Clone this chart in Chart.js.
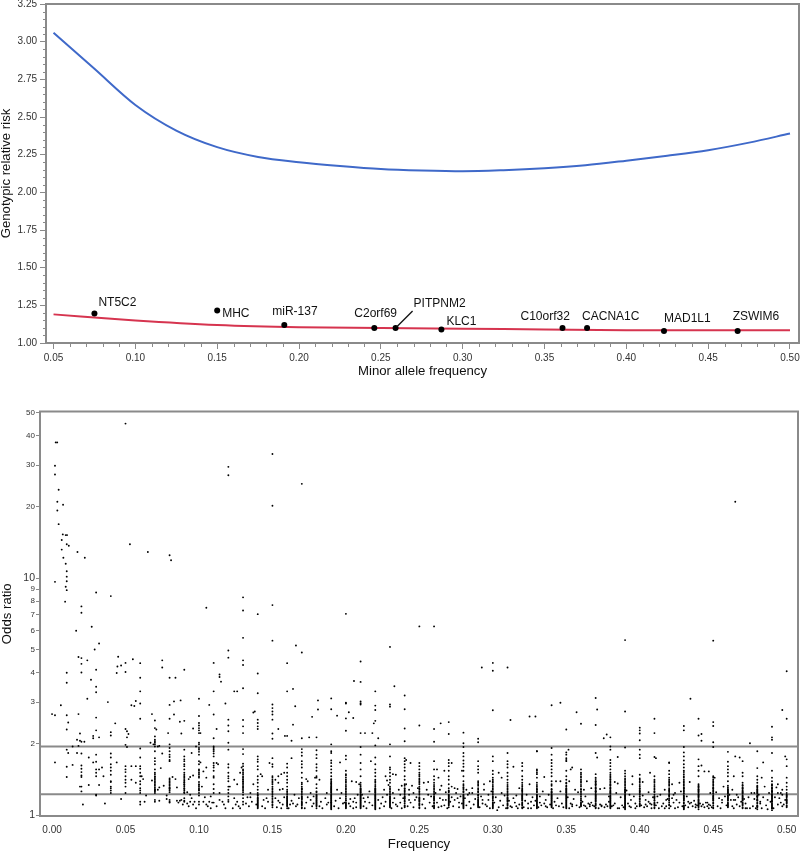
<!DOCTYPE html>
<html>
<head>
<meta charset="utf-8">
<title>Genotypic relative risk and odds ratio</title>
<script src="https://cdn.jsdelivr.net/npm/chart.js@4"></script>
<style>
  body { margin: 0; background: #fff; }
  canvas { position: absolute; left: 0; }
  #riskChart { top: 0; }
  #oddsChart { top: 400px; }
</style>
</head>
<body>
<canvas id="riskChart" width="800" height="385"></canvas>
<canvas id="oddsChart" width="800" height="451"></canvas>
<script>
// --- top panel data ---
const blueFreq = [0.05, 0.075, 0.10, 0.125, 0.15, 0.175, 0.20, 0.225, 0.25, 0.275, 0.30, 0.325, 0.35, 0.375, 0.40, 0.425, 0.45, 0.475, 0.50];
const blueRisk = [3.06, 2.82, 2.58, 2.41, 2.30, 2.235, 2.20, 2.175, 2.155, 2.145, 2.14, 2.147, 2.16, 2.18, 2.21, 2.243, 2.28, 2.33, 2.39];
const redFreq = [0.05, 0.10, 0.15, 0.20, 0.25, 0.30, 0.35, 0.40, 0.45, 0.50];
const redRisk = [1.19, 1.15, 1.12, 1.105, 1.10, 1.095, 1.09, 1.085, 1.085, 1.085];
const geneNames = ['NT5C2', 'MHC', 'miR-137', 'C2orf69', 'PITPNM2', 'KLC1', 'C10orf32', 'CACNA1C', 'MAD1L1', 'ZSWIM6'];
const geneFreq = [0.075, 0.15, 0.191, 0.246, 0.259, 0.287, 0.361, 0.376, 0.423, 0.468];
const geneRisk = [1.195, 1.215, 1.12, 1.10, 1.10, 1.09, 1.10, 1.10, 1.08, 1.08];
const riskXTicks = [0.05, 0.10, 0.15, 0.20, 0.25, 0.30, 0.35, 0.40, 0.45, 0.50];
const riskYTicks = [1.00, 1.25, 1.50, 1.75, 2.00, 2.25, 2.50, 2.75, 3.00, 3.25];

// --- bottom panel data ---
const oddsXTicks = [0, 0.05, 0.10, 0.15, 0.20, 0.25, 0.30, 0.35, 0.40, 0.45, 0.50];
const oddsYTicks = [1, 2, 3, 4, 5, 6, 7, 8, 9, 10, 20, 30, 40, 50];
const refLines = [1.95, 1.225];
const gridFreq = [0.01, 0.02, 0.03, 0.04, 0.05, 0.06, 0.07, 0.08, 0.09, 0.10, 0.11, 0.12, 0.13, 0.14, 0.15, 0.16, 0.17, 0.18, 0.19, 0.20, 0.21, 0.22, 0.23, 0.24, 0.25, 0.26, 0.27, 0.28, 0.29, 0.30, 0.31, 0.32, 0.33, 0.34, 0.35, 0.36, 0.37, 0.38, 0.39, 0.40, 0.41, 0.42, 0.43, 0.44, 0.45, 0.46, 0.47, 0.48, 0.49, 0.50];
// odds ratios of the variants sitting on each rounded frequency
const gridOdds = [
  [1.89, 1.60, 1.45],
  [1.62, 1.57, 1.52, 1.47, 1.45, 1.32, 1.26, 1.82],
  [1.80, 1.68, 1.56, 1.51, 1.46, 1.22, 1.21],
  [1.82, 1.75, 1.64, 1.59, 1.54, 1.48, 1.39, 1.38, 1.32, 1.30, 1.27, 1.24],
  [1.61, 1.56, 1.52, 1.46, 1.41, 1.37, 1.32, 1.24],
  [1.91, 1.75, 1.61, 1.57, 1.51, 1.46, 1.39, 1.35, 1.30, 1.27, 1.24, 1.14, 1.11],
  [2.15, 2.08, 2.05, 2.02, 1.99, 1.95, 1.86, 1.74, 1.69, 1.64, 1.56, 1.51, 1.46, 1.41, 1.37, 1.28, 1.26, 1.24, 1.16, 1.14],
  [1.99, 1.92, 1.86, 1.80, 1.76, 1.71, 1.69, 1.41, 1.37, 1.33, 1.30, 1.25, 1.16, 1.14, 1.13],
  [1.89, 1.77, 1.72, 1.69, 1.64, 1.61, 1.56, 1.51, 1.48, 1.44, 1.38, 1.35, 1.30, 1.24, 1.18, 1.15, 1.14],
  [2.02, 1.99, 1.92, 1.89, 1.85, 1.80, 1.69, 1.64, 1.56, 1.51, 1.46, 1.35, 1.32, 1.28, 1.24, 1.21, 1.14, 1.11],
  [1.95, 1.92, 1.89, 1.86, 1.82, 1.77, 1.66, 1.62, 1.59, 1.54, 1.46, 1.44, 1.35, 1.29, 1.24, 1.13],
  [2.02, 1.89, 1.64, 1.59, 1.51, 1.46, 1.43, 1.39, 1.32, 1.28, 1.24, 1.20, 1.16, 1.14],
  [1.90, 1.81, 1.65, 1.61, 1.56, 1.51, 1.46, 1.42, 1.39, 1.36, 1.32, 1.29, 1.25, 1.22, 1.18, 1.14, 1.11],
  [1.77, 1.72, 1.68, 1.61, 1.56, 1.46, 1.41, 1.37, 1.32, 1.28, 1.24, 1.18, 1.14, 1.11, 1.09, 1.07],
  [1.74, 1.64, 1.60, 1.46, 1.41, 1.37, 1.32, 1.28, 1.24, 1.18, 1.14, 1.13],
  [1.65, 1.59, 1.51, 1.46, 1.41, 1.37, 1.32, 1.28, 1.24, 1.20, 1.16, 1.13, 1.09],
  [1.90, 1.84, 1.78, 1.69, 1.64, 1.59, 1.51, 1.44, 1.37, 1.30, 1.28, 1.24, 1.20, 1.14, 1.11],
  [1.88, 1.80, 1.74, 1.64, 1.59, 1.54, 1.46, 1.44, 1.35, 1.30, 1.26, 1.22, 1.18, 1.14, 1.11, 1.09],
  [1.99, 1.86, 1.83, 1.70, 1.66, 1.61, 1.56, 1.51, 1.46, 1.41, 1.37, 1.32, 1.28, 1.24, 1.20, 1.16, 1.13, 1.09, 1.06],
  [1.78, 1.72, 1.54, 1.49, 1.44, 1.37, 1.32, 1.24, 1.20, 1.13, 1.09, 1.07],
  [1.94, 1.80, 1.66, 1.56, 1.46, 1.37, 1.32, 1.28, 1.24, 1.20, 1.16, 1.13, 1.09, 1.07],
  [1.75, 1.64, 1.56, 1.51, 1.46, 1.41, 1.37, 1.32, 1.28, 1.24, 1.20, 1.16, 1.13, 1.09, 1.06],
  [1.59, 1.56, 1.51, 1.46, 1.41, 1.37, 1.32, 1.28, 1.24, 1.20, 1.16, 1.13, 1.09],
  [1.74, 1.69, 1.64, 1.59, 1.54, 1.46, 1.41, 1.35, 1.30, 1.24, 1.20, 1.14, 1.10],
  [1.66, 1.61, 1.56, 1.51, 1.46, 1.41, 1.37, 1.30, 1.24, 1.18, 1.14, 1.11, 1.07],
  [1.69, 1.56, 1.46, 1.41, 1.37, 1.32, 1.28, 1.24, 1.20, 1.16, 1.13, 1.09],
  [1.71, 1.66, 1.61, 1.54, 1.46, 1.41, 1.35, 1.30, 1.26, 1.22, 1.18, 1.14, 1.11],
  [1.94, 1.83, 1.77, 1.70, 1.65, 1.60, 1.54, 1.46, 1.39, 1.35, 1.30, 1.26, 1.22, 1.18, 1.14, 1.11, 1.07],
  [1.69, 1.61, 1.56, 1.51, 1.39, 1.35, 1.30, 1.26, 1.22, 1.16, 1.13, 1.09],
  [1.77, 1.69, 1.54, 1.41, 1.37, 1.32, 1.28, 1.24, 1.20, 1.16, 1.13, 1.09, 1.07],
  [1.83, 1.69, 1.64, 1.59, 1.51, 1.46, 1.41, 1.37, 1.32, 1.28, 1.24, 1.18, 1.14, 1.11],
  [1.66, 1.61, 1.54, 1.46, 1.41, 1.37, 1.32, 1.28, 1.24, 1.20, 1.16, 1.11, 1.07],
  [1.56, 1.54, 1.51, 1.49, 1.44, 1.37, 1.32, 1.30, 1.26, 1.22, 1.18, 1.14, 1.11, 1.07],
  [1.80, 1.71, 1.66, 1.61, 1.56, 1.51, 1.46, 1.39, 1.35, 1.28, 1.24, 1.20, 1.16, 1.13, 1.09],
  [1.74, 1.69, 1.54, 1.46, 1.41, 1.37, 1.32, 1.28, 1.24, 1.20, 1.16, 1.13, 1.09],
  [1.56, 1.51, 1.46, 1.41, 1.37, 1.32, 1.28, 1.24, 1.20, 1.16, 1.13, 1.09],
  [1.49, 1.44, 1.39, 1.35, 1.30, 1.26, 1.22, 1.18, 1.14, 1.11, 1.07],
  [1.71, 1.66, 1.61, 1.56, 1.51, 1.46, 1.41, 1.35, 1.30, 1.24, 1.18, 1.14, 1.11, 1.07],
  [1.54, 1.50, 1.46, 1.41, 1.35, 1.28, 1.24, 1.20, 1.16, 1.13, 1.09, 1.06],
  [1.48, 1.41, 1.37, 1.32, 1.26, 1.20, 1.14, 1.09],
  [1.46, 1.41, 1.37, 1.32, 1.28, 1.22, 1.16, 1.11, 1.07],
  [1.66, 1.54, 1.49, 1.44, 1.39, 1.35, 1.28, 1.24, 1.18, 1.13, 1.07],
  [1.70, 1.64, 1.59, 1.54, 1.49, 1.44, 1.39, 1.35, 1.30, 1.24, 1.18, 1.13, 1.07, 1.06],
  [1.61, 1.54, 1.46, 1.35, 1.32, 1.28, 1.22, 1.16, 1.13, 1.11, 1.09, 1.06],
  [1.46, 1.44, 1.39, 1.35, 1.30, 1.24, 1.18, 1.13, 1.07],
  [1.68, 1.61, 1.56, 1.51, 1.46, 1.39, 1.28, 1.24, 1.18, 1.13, 1.09],
  [1.69, 1.51, 1.46, 1.37, 1.30, 1.24, 1.18, 1.13, 1.07],
  [1.58, 1.46, 1.41, 1.37, 1.32, 1.28, 1.24, 1.20, 1.16, 1.13, 1.09, 1.06],
  [1.54, 1.44, 1.39, 1.35, 1.30, 1.26, 1.22, 1.18, 1.14, 1.11, 1.07, 1.05],
  [1.61, 1.44, 1.37, 1.32, 1.28, 1.24, 1.20, 1.16, 1.13, 1.09]
];
const solidFreq = [0.07, 0.08, 0.09, 0.10, 0.13, 0.14, 0.15, 0.16, 0.17, 0.18, 0.19, 0.20, 0.21, 0.22, 0.23, 0.24, 0.25, 0.26, 0.27, 0.28, 0.29, 0.30, 0.31, 0.32, 0.33, 0.34, 0.35, 0.36, 0.37, 0.38, 0.39, 0.40, 0.41, 0.42, 0.43, 0.44, 0.45, 0.46, 0.47, 0.48, 0.49, 0.50];
const solidOdds = [
  [1.27, 1.29, 1.31, 1.33, 1.35, 1.39, 1.43, 1.45, 1.49],
  [1.27, 1.29, 1.31, 1.35, 1.39, 1.43],
  [1.25, 1.27, 1.29, 1.32, 1.34, 1.37, 1.40, 1.42, 1.46],
  [1.27, 1.30, 1.34, 1.38, 1.44, 1.49, 1.54],
  [1.27, 1.31, 1.34, 1.38, 1.41, 1.44, 1.49, 1.54],
  [1.08, 1.10, 1.12, 1.13, 1.15, 1.16, 1.17, 1.19, 1.21, 1.22],
  [1.08, 1.10, 1.11, 1.16, 1.20, 1.22, 1.26, 1.30, 1.35, 1.39, 1.44],
  [1.07, 1.10, 1.11, 1.12, 1.14, 1.15, 1.17, 1.18, 1.19, 1.22, 1.26],
  [1.07, 1.08, 1.10, 1.12, 1.13, 1.16, 1.17, 1.18, 1.19, 1.22, 1.26, 1.29, 1.32, 1.35],
  [1.07, 1.10, 1.12, 1.13, 1.15, 1.16, 1.17, 1.19, 1.20, 1.21, 1.25],
  [1.07, 1.08, 1.10, 1.11, 1.12, 1.14, 1.15, 1.17, 1.18, 1.19, 1.21, 1.22, 1.25, 1.26, 1.27, 1.29, 1.30, 1.31, 1.33, 1.35, 1.36, 1.39, 1.42],
  [1.08, 1.10, 1.11, 1.12, 1.15, 1.16, 1.18, 1.22, 1.26, 1.28, 1.30, 1.34, 1.39, 1.41, 1.47],
  [1.08, 1.10, 1.11, 1.12, 1.14, 1.15, 1.17, 1.18, 1.19, 1.21, 1.22, 1.25, 1.26, 1.27, 1.29, 1.30, 1.34],
  [1.07, 1.08, 1.10, 1.11, 1.12, 1.14, 1.15, 1.17, 1.18, 1.19, 1.21, 1.22, 1.25, 1.26, 1.27, 1.29, 1.30, 1.34, 1.39],
  [1.08, 1.10, 1.11, 1.12, 1.14, 1.15, 1.17, 1.18, 1.19, 1.22, 1.26, 1.30],
  [1.08, 1.09, 1.12, 1.15, 1.17, 1.18, 1.19, 1.22, 1.26, 1.27, 1.29, 1.33],
  [1.08, 1.10, 1.12, 1.15, 1.16, 1.17, 1.19, 1.22, 1.26, 1.28, 1.32, 1.35, 1.39, 1.43, 1.48],
  [1.07, 1.08, 1.10, 1.12, 1.15, 1.17, 1.18, 1.19, 1.22, 1.26, 1.30, 1.34],
  [1.08, 1.10, 1.12, 1.13, 1.15, 1.16, 1.17, 1.19, 1.20, 1.21, 1.25, 1.27],
  [1.08, 1.09, 1.10, 1.12, 1.13, 1.15, 1.16, 1.17, 1.19, 1.20, 1.21, 1.25, 1.28, 1.31, 1.33],
  [1.08, 1.10, 1.11, 1.12, 1.14, 1.15, 1.17, 1.19, 1.21, 1.25, 1.28, 1.33, 1.37],
  [1.08, 1.10, 1.11, 1.12, 1.15, 1.18, 1.19, 1.22, 1.26, 1.30, 1.34, 1.39, 1.44, 1.49],
  [1.07, 1.08, 1.10, 1.12, 1.15, 1.16, 1.17, 1.19, 1.21, 1.22, 1.26, 1.30, 1.34],
  [1.08, 1.10, 1.12, 1.13, 1.15, 1.17, 1.18, 1.19, 1.21, 1.22, 1.26, 1.27, 1.30, 1.34],
  [1.08, 1.09, 1.10, 1.12, 1.13, 1.15, 1.16, 1.17, 1.19, 1.20, 1.21, 1.25, 1.28, 1.34],
  [1.08, 1.10, 1.11, 1.12, 1.14, 1.15, 1.17, 1.18, 1.19, 1.21, 1.22, 1.25, 1.26, 1.29, 1.33],
  [1.07, 1.08, 1.10, 1.11, 1.12, 1.14, 1.15, 1.17, 1.18, 1.19, 1.21, 1.22, 1.25, 1.26, 1.27, 1.29, 1.30, 1.33, 1.36],
  [1.10, 1.11, 1.12, 1.15, 1.18, 1.22, 1.26, 1.29, 1.34, 1.39, 1.44, 1.49],
  [1.08, 1.10, 1.12, 1.15, 1.16, 1.17, 1.19, 1.20, 1.21, 1.23, 1.25, 1.26, 1.27, 1.29, 1.31, 1.33, 1.35, 1.37, 1.39, 1.42],
  [1.08, 1.09, 1.10, 1.12, 1.13, 1.15, 1.16, 1.17, 1.19, 1.20, 1.21, 1.23, 1.25, 1.26, 1.27, 1.29, 1.31, 1.33, 1.34, 1.37, 1.39, 1.42, 1.44, 1.48],
  [1.07, 1.08, 1.10, 1.11, 1.12, 1.14, 1.15, 1.17, 1.18, 1.19, 1.21, 1.22, 1.25, 1.26, 1.27, 1.29, 1.31, 1.33, 1.37, 1.39, 1.43],
  [1.10, 1.11, 1.12, 1.16, 1.17, 1.18, 1.22, 1.23, 1.25, 1.27, 1.29, 1.30, 1.34, 1.39, 1.43],
  [1.08, 1.10, 1.12, 1.13, 1.15, 1.18, 1.19, 1.20, 1.25, 1.26, 1.30, 1.34, 1.39],
  [1.10, 1.11, 1.15, 1.16, 1.20, 1.21, 1.22, 1.26, 1.27, 1.30, 1.33, 1.37, 1.41],
  [1.08, 1.09, 1.10, 1.12, 1.15, 1.16, 1.17, 1.19, 1.20, 1.21, 1.23, 1.26, 1.27, 1.29, 1.31, 1.33, 1.37, 1.41, 1.46, 1.52],
  [1.08, 1.10, 1.12, 1.14, 1.15, 1.17, 1.19, 1.20, 1.21, 1.23, 1.25, 1.26, 1.27, 1.29, 1.31, 1.33],
  [1.08, 1.10, 1.12, 1.15, 1.16, 1.17, 1.19, 1.20, 1.21, 1.23, 1.26, 1.27, 1.29, 1.31, 1.33, 1.37, 1.41],
  [1.08, 1.10, 1.11, 1.12, 1.15, 1.16, 1.17, 1.19, 1.20, 1.21, 1.23, 1.25, 1.26, 1.27, 1.29, 1.31, 1.33],
  [1.08, 1.10, 1.11, 1.12, 1.15, 1.16, 1.17, 1.19, 1.20, 1.21, 1.23, 1.25, 1.26, 1.27, 1.29, 1.31, 1.33, 1.34],
  [1.08, 1.09, 1.10, 1.12, 1.15, 1.16, 1.17, 1.19, 1.20, 1.21, 1.23, 1.25, 1.26, 1.27, 1.29, 1.31, 1.33],
  [1.07, 1.08, 1.09, 1.10, 1.12, 1.14, 1.15, 1.16, 1.17, 1.19, 1.20, 1.21, 1.23, 1.25, 1.26, 1.27, 1.29, 1.31, 1.33, 1.34],
  [1.08, 1.10, 1.12, 1.14, 1.15, 1.17, 1.19, 1.21, 1.22]
];
// everything else, [frequency, odds ratio]
const looseDots = [
  [0.0025,37.4],[0.0035,37.4],[0.002,29.8],[0.002,27.4],[0.0045,23.6],[0.0036,21.0],[0.0075,20.4],[0.0036,19.3],[0.0045,16.9],[0.0073,15.3],[0.0093,15.2],[0.0102,15.2],[0.0066,14.5],[0.01,13.9],[0.0114,13.7],[0.0066,13.2],[0.0173,12.9],[0.0223,12.2],[0.0077,12.2],[0.0093,11.5],[0.01,10.7],[0.01,10.15],[0.01,9.7],[0.002,9.65],[0.0093,9.2],[0.01,8.9],[0.03,8.7],[0.04,8.4],[0.0089,7.96],[0.02,7.6],[0.02,7.15],[0.027,6.24],[0.0164,6.0],
  [0.05,44.9],[0.053,13.9],[0.0652,12.9],[0.08,12.5],[0.081,11.9],[0.105,7.5],[0.12,29.5],[0.12,27.2],[0.13,8.3],[0.13,7.3],[0.14,7.05],[0.15,33.4],[0.17,25],[0.15,20.2],[0.15,7.7],[0.20,7.07],[0.25,6.26],[0.26,6.26],[0.465,21],
  [0.15,5.45],[0.166,5.2],[0.17,4.86],[0.16,4.38],[0.21,4.45],[0.23,5.13],[0.15,2.93],[0.15,2.83],[0.15,2.74],[0.15,2.66],[0.15,2.53],[0.16,3.33],[0.164,3.41],[0.1655,2.88],[0.164,2.41],[0.154,2.31],[0.15,2.21],[0.15,2.1],[0.1585,2.16],[0.16,2.16],[0.163,2.06],[0.17,2.11],[0.175,2.13],[0.18,2.13],[0.181,3.05],[0.181,2.79],[0.177,2.6],[0.19,3.11],[0.19,2.8],[0.194,2.63],[0.20,2.98],[0.20,2.96],[0.20,2.56],[0.202,2.72],[0.205,2.57],[0.20,2.27],[0.2055,3.68],[0.21,3.65],[0.21,3.02],[0.21,2.97],[0.21,2.93],[0.21,2.22],[0.213,2.22],[0.22,3.33],[0.22,2.9],[0.22,2.78],[0.22,2.5],[0.219,2.44],[0.218,2.22],[0.222,2.11],[0.22,1.97],[0.23,2.93],[0.23,2.87],[0.233,3.5],[0.23,1.99],[0.23,1.77],[0.24,3.2],[0.24,2.8],[0.24,2.32],[0.24,2.05],[0.25,2.39],[0.26,2.31],[0.26,2.04],[0.2645,2.44],[0.27,2.47],[0.27,2.2],[0.28,2.23],[0.28,2.01],[0.29,2.1],[0.29,2.03],[0.2925,4.2],[0.30,4.39],[0.30,4.07],[0.31,4.2],[0.30,2.77],[0.312,2.52],[0.325,2.61],[0.329,2.61],[0.33,1.86],
  [0.39,5.48],[0.45,5.45],[0.50,4.05],[0.34,2.91],[0.346,2.98],[0.37,3.12],[0.4345,3.1],[0.371,2.79],[0.39,2.74],[0.357,2.72],[0.36,2.43],[0.37,2.4],[0.35,2.3],[0.41,2.55],[0.41,2.22],[0.40,2.34],[0.40,2.28],[0.40,2.21],[0.40,2.07],[0.40,1.89],[0.40,1.8],[0.40,1.74],[0.44,2.55],[0.44,2.17],[0.442,2.2],[0.442,2.06],[0.43,2.38],[0.43,2.28],[0.45,2.47],[0.45,2.38],[0.45,2.03],[0.45,1.94],[0.497,2.78],[0.50,2.55],[0.49,2.36],[0.49,2.13],[0.49,2.08],[0.475,2.01],[0.3755,2.11],[0.3775,2.19],[0.38,2.13],[0.38,1.95],[0.38,1.89],[0.39,1.93],[0.43,1.94],[0.43,1.84],[0.43,1.77],[0.34,1.92],[0.35,1.84],[0.3515,1.89],[0.35,1.8],[0.35,1.71],[0.33,1.86],[0.37,1.83],[0.371,1.75],[0.385,1.76],[0.41,1.76],[0.411,1.74],[0.44,1.72],[0.46,1.85],[0.465,1.77],[0.468,1.75],[0.48,1.86],[0.484,1.67],[0.49,1.83],[0.499,1.77],[0.50,1.72],[0.42,1.67],
  [0.000,2.67],[0.002,2.64],[0.006,2.91],[0.01,2.64],[0.011,2.46],[0.01,2.3],[0.01,3.99],[0.01,3.62],[0.018,4.65],[0.02,4.6],[0.02,4.35],[0.02,4.0],[0.024,4.5],[0.029,5.0],[0.032,5.3],[0.03,4.11],[0.0265,3.73],[0.03,3.48],[0.03,3.3],[0.024,3.1],[0.018,2.67],[0.038,3.0],[0.03,2.58],[0.043,2.44],[0.03,2.28],[0.028,2.16],[0.028,2.11],[0.032,2.13],[0.019,2.21],[0.017,2.08],[0.019,2.06],[0.02,2.04],[0.022,2.04],[0.04,2.24],[0.04,2.17],[0.05,2.31],[0.051,2.26],[0.052,2.2],[0.051,2.13],[0.05,1.98],[0.051,1.94],
  [0.045,4.66],[0.0445,4.24],[0.047,4.28],[0.05,4.39],[0.044,3.98],[0.05,4.02],[0.055,4.55],[0.06,4.38],[0.06,3.8],[0.06,3.33],[0.06,2.96],[0.06,2.55],[0.054,2.91],[0.056,2.89],[0.057,3.03],[0.068,2.67],[0.07,2.51],[0.07,2.33],[0.071,2.3],[0.075,4.5],[0.075,4.2],[0.08,3.8],[0.084,3.8],[0.08,2.92],[0.083,3.02],[0.0875,3.05],[0.083,2.66],[0.08,2.55],[0.087,2.48],[0.09,2.5],[0.079,2.22],[0.088,2.21],[0.09,4.11],[0.10,3.1],[0.10,2.62],[0.10,2.45],[0.10,2.39],[0.10,2.33],[0.10,2.28],[0.10,2.22],[0.101,2.22],[0.096,2.32],[0.107,2.92],[0.11,4.39],[0.11,3.33],[0.11,2.66],[0.112,2.31],[0.11,2.11],[0.114,3.92],[0.114,3.83],[0.115,3.66],[0.118,2.96],[0.12,4.95],[0.12,4.62],[0.12,2.53],[0.12,2.39],[0.12,2.26],[0.124,3.33],[0.126,3.33],[0.13,5.6],[0.13,4.5],[0.13,4.3],[0.13,3.43],[0.13,2.52],[0.13,2.37],[0.13,2.22],[0.14,3.96],[0.14,3.27],[0.137,2.71],[0.138,2.74],[0.14,2.53],[0.14,2.45],[0.14,2.37],[0.14,2.31],
  [0.011,1.83],[0.002,1.67],[0.018,1.96],[0.014,1.95],[0.017,1.83],[0.014,1.63],[0.019,1.32],[0.025,1.75],[0.025,1.34],[0.021,1.11],[0.028,1.67],[0.032,1.56],[0.032,1.34],[0.036,1.12],[0.035,1.46],[0.034,1.59],[0.044,1.67],[0.047,1.17],[0.054,1.61],[0.057,1.61],[0.054,1.41],[0.057,1.37],[0.061,1.46],[0.062,1.42],[0.063,1.14],[0.064,1.21],
  [0.067,2.02],[0.069,1.99],[0.072,1.95],[0.073,1.96],[0.075,1.82],[0.074,1.58],[0.072,1.28],[0.073,1.31],[0.068,1.40],[0.073,1.15],[0.076,1.33],[0.078,1.21],[0.078,1.17],[0.082,1.45],[0.084,1.42],[0.085,1.31],[0.085,1.15],[0.087,1.15],[0.088,1.16],[0.089,1.11],[0.086,1.13],[0.093,1.42],[0.094,1.45],[0.096,1.47],[0.095,1.83],[0.092,1.25],[0.094,1.22],[0.095,1.18],[0.097,1.14],[0.098,1.95],
  [0.101,1.67],[0.105,1.59],[0.103,1.53],[0.105,1.44],[0.102,1.32],[0.104,1.19],[0.105,1.11],[0.107,1.14],[0.103,1.14],[0.109,1.13],[0.108,1.2],[0.112,1.66],[0.113,1.64],[0.114,1.24],[0.117,1.11],[0.114,1.16],[0.121,1.32],[0.124,1.41],[0.126,1.35],[0.124,1.18],[0.127,1.09],[0.126,1.14],[0.128,1.51],[0.129,1.59],[0.135,1.24],[0.135,1.19],[0.137,1.35],[0.142,1.49],[0.143,1.46],[0.144,1.16],[0.146,1.18],[0.147,1.14],[0.148,1.66],[0.147,1.28],
  [0.154,1.46],[0.156,1.49],[0.158,1.51],[0.152,1.41],[0.154,1.37],[0.155,1.28],[0.157,1.29],[0.152,1.18],[0.155,1.13],[0.157,1.11],[0.163,1.74],[0.162,1.11],[0.165,1.22],[0.167,1.11],[0.173,1.42],[0.174,1.39],[0.176,1.24],[0.178,1.2],[0.176,1.16],[0.182,1.41],[0.179,1.44],[0.182,1.09],[0.187,1.11],[0.188,1.13],[0.19,1.13],[0.196,1.67],[0.194,1.28],[0.197,1.24],[0.204,1.39],[0.203,1.09],[0.205,1.07],[0.199,1.13],[0.207,1.38],[0.209,1.35],[0.206,1.18],[0.207,1.13],[0.217,1.69],[0.211,1.22],[0.212,1.18],[0.216,1.13],[0.222,1.16],[0.227,1.46],[0.228,1.4],[0.232,1.49],[0.234,1.48],[0.226,1.28],[0.227,1.14],[0.232,1.24],[0.234,1.11],
  [0.238,1.33],[0.237,1.22],[0.241,1.71],[0.244,1.66],[0.241,1.35],[0.243,1.28],[0.246,1.24],[0.243,1.16],[0.253,1.37],[0.256,1.38],[0.247,1.16],[0.256,1.22],[0.262,1.56],[0.263,1.44],[0.264,1.28],[0.266,1.16],[0.265,1.09],[0.272,1.66],[0.267,1.54],[0.272,1.32],[0.274,1.30],[0.275,1.24],[0.268,1.16],[0.279,1.54],[0.282,1.28],[0.284,1.24],[0.277,1.13],[0.276,1.18],[0.286,1.24],[0.293,1.16],[0.294,1.28],[0.295,1.11],[0.298,1.39],[0.297,1.22],[0.303,1.05],[0.304,1.51],[0.306,1.44],[0.306,1.24],[0.314,1.60],[0.314,1.18],[0.312,1.09],[0.316,1.09],[0.318,1.30],[0.324,1.07],[0.325,1.35],[0.326,1.14],
  [0.335,1.45],[0.33,1.28],[0.332,1.13],[0.343,1.39],[0.346,1.39],[0.336,1.09],[0.352,1.39],[0.354,1.59],[0.353,1.56],[0.354,1.11],[0.356,1.28],[0.362,1.28],[0.364,1.39],[0.363,1.09],[0.366,1.11],[0.367,1.3],[0.373,1.29],[0.376,1.30],[0.374,1.09],[0.379,1.14],[0.383,1.38],[0.385,1.36],[0.385,1.07],[0.395,1.46],[0.395,1.35],[0.394,1.16],[0.397,1.07],[0.393,1.22],[0.402,1.38],[0.404,1.11],[0.407,1.51],[0.406,1.14],[0.408,1.11],[0.412,1.2],[0.415,1.09],[0.417,1.07],[0.418,1.16],[0.422,1.35],[0.427,1.37],[0.423,1.22],[0.425,1.16],[0.424,1.07],[0.434,1.38],[0.433,1.14],[0.435,1.13],[0.442,1.62],[0.444,1.53],[0.447,1.53],[0.438,1.11],[0.448,1.24],[0.451,1.44],[0.446,1.13],[0.447,1.07],[0.457,1.32],[0.463,1.28],[0.456,1.16],[0.464,1.16],[0.464,1.46],[0.466,1.22],[0.465,1.16],[0.472,1.07],[0.475,1.07],[0.478,1.24],[0.483,1.44],[0.482,1.14],[0.485,1.32],[0.487,1.16],[0.494,1.35],[0.494,1.24],[0.497,1.22],[0.496,1.13],[0.497,1.09],
  [0.092,1.12],[0.093,1.09],[0.094,1.14],[0.096,1.11],[0.098,1.07],[0.106,1.09],[0.108,1.07],[0.112,1.09],[0.116,1.14],[0.118,1.07],[0.123,1.07],[0.125,1.11],[0.128,1.07],[0.132,1.12],[0.134,1.09],[0.136,1.14],[0.133,1.19],[0.139,1.11],[0.143,1.09],[0.145,1.07],[0.153,1.08],[0.154,1.15],[0.156,1.07],[0.158,1.19],[0.161,1.07],[0.163,1.15],[0.164,1.12],[0.166,1.09],[0.168,1.18],[0.172,1.07],[0.173,1.13],[0.174,1.19],[0.177,1.09],[0.178,1.12],[0.183,1.14],[0.184,1.07],[0.186,1.18],[0.187,1.24],[0.192,1.09],[0.193,1.15],[0.195,1.07],[0.196,1.18],[0.198,1.12],[0.202,1.12],[0.203,1.17],[0.205,1.14],[0.207,1.08],[0.208,1.22],
  [0.212,1.09],[0.213,1.14],[0.214,1.07],[0.215,1.19],[0.216,1.26],[0.218,1.1],[0.223,1.07],[0.224,1.12],[0.225,1.19],[0.226,1.09],[0.228,1.22],[0.229,1.34],[0.231,1.07],[0.232,1.13],[0.233,1.18],[0.235,1.09],[0.236,1.28],[0.237,1.13],[0.238,1.07],[0.239,1.18],[0.242,1.09],[0.243,1.22],[0.244,1.13],[0.245,1.33],[0.246,1.08],[0.248,1.19],[0.249,1.3],[0.252,1.11],[0.253,1.17],[0.254,1.07],[0.255,1.28],[0.257,1.13],[0.258,1.2],[0.259,1.09],[0.261,1.24],[0.262,1.13],[0.263,1.08],[0.264,1.18],[0.265,1.33],[0.267,1.1],[0.268,1.25],[0.269,1.07],[0.271,1.14],[0.272,1.19],[0.273,1.09],[0.274,1.16],[0.276,1.29],[0.277,1.08],[0.278,1.2],[0.279,1.12],
  [0.281,1.18],[0.282,1.1],[0.283,1.22],[0.284,1.14],[0.285,1.07],[0.286,1.3],[0.287,1.11],[0.288,1.17],[0.291,1.08],[0.292,1.2],[0.293,1.12],[0.294,1.35],[0.296,1.09],[0.297,1.16],[0.298,1.07],[0.299,1.26],[0.301,1.13],[0.302,1.19],[0.304,1.08],[0.305,1.15],[0.307,1.1],[0.308,1.21],[0.309,1.07],[0.311,1.15],[0.313,1.08],[0.315,1.13],[0.316,1.21],[0.317,1.07],[0.318,1.11],[0.321,1.08],[0.322,1.15],[0.323,1.22],[0.324,1.12],[0.326,1.07],[0.327,1.19],[0.328,1.1],[0.329,1.15],[0.331,1.08],[0.332,1.2],[0.333,1.1],[0.334,1.26],[0.335,1.12],[0.336,1.16],[0.337,1.08],[0.338,1.22],[0.339,1.11],
  [0.341,1.07],[0.342,1.14],[0.343,1.1],[0.344,1.18],[0.345,1.09],[0.346,1.26],[0.347,1.12],[0.348,1.08],[0.351,1.19],[0.352,1.07],[0.353,1.12],[0.354,1.09],[0.355,1.17],[0.357,1.1],[0.358,1.25],[0.359,1.08],[0.361,1.14],[0.362,1.1],[0.363,1.2],[0.364,1.07],[0.365,1.12],[0.366,1.09],[0.367,1.13],[0.368,1.1],[0.369,1.09],[0.372,1.07],[0.373,1.11],[0.374,1.1],[0.376,1.08],[0.377,1.11],[0.378,1.09],[0.379,1.2],[0.381,1.09],[0.382,1.1],[0.383,1.12],[0.384,1.24],[0.386,1.07],[0.387,1.19],[0.388,1.1],[0.389,1.08],[0.391,1.27],[0.392,1.12],[0.393,1.09],[0.394,1.08],[0.396,1.2],[0.397,1.12],[0.398,1.09],
  [0.401,1.1],[0.402,1.21],[0.403,1.08],[0.404,1.16],[0.405,1.09],[0.406,1.25],[0.407,1.12],[0.408,1.07],[0.409,1.19],[0.411,1.1],[0.412,1.13],[0.413,1.07],[0.414,1.22],[0.416,1.12],[0.417,1.28],[0.418,1.09],[0.419,1.17],[0.421,1.09],[0.422,1.18],[0.423,1.13],[0.424,1.24],[0.426,1.08],[0.427,1.13],[0.428,1.26],[0.429,1.09],[0.431,1.1],[0.432,1.2],[0.433,1.08],[0.434,1.12],[0.436,1.09],[0.437,1.15],[0.438,1.08],[0.439,1.1],[0.441,1.12],[0.442,1.09],[0.443,1.11],[0.444,1.08],[0.445,1.13],[0.446,1.09],[0.447,1.11],[0.448,1.1],[0.449,1.08],
  [0.452,1.25],[0.453,1.09],[0.454,1.18],[0.455,1.07],[0.456,1.13],[0.458,1.2],[0.459,1.1],[0.461,1.22],[0.462,1.16],[0.463,1.09],[0.464,1.07],[0.466,1.11],[0.467,1.19],[0.468,1.09],[0.469,1.14],[0.471,1.17],[0.472,1.12],[0.473,1.07],[0.474,1.19],[0.476,1.24],[0.477,1.09],[0.478,1.17],[0.479,1.07],[0.481,1.22],[0.482,1.12],[0.483,1.07],[0.484,1.19],[0.486,1.1],[0.487,1.06],[0.488,1.24],[0.489,1.14],[0.491,1.07],[0.492,1.19],[0.493,1.31],[0.494,1.11],[0.495,1.18],[0.496,1.24],[0.497,1.28],[0.498,1.11],[0.499,1.16]
];

// axis tick marks between the labels on the top panel
const riskXMinor = [];
const riskYMinor = [];
for (let i = 5; i <= 50; i++) if (i % 5) riskXMinor.push(i / 100);
for (let i = 20; i <= 65; i++) if (i % 5) riskYMinor.push(i / 20);

const frameColor = '#8a8a8a';
const labelFont = '"Liberation Sans", Arial, sans-serif';
const labelDx = [4, 5, -12, -20, 18, 5, -42, -5, 0, -5];
const labelDy = [-11, 3, -13, -14, -24, -8, -11, -11, -12, -14];

function fixBox(width, height) {
    return function(scale) {
        if (width) scale.width = width;
        if (height) scale.height = height;
        scale.paddingLeft = scale.paddingRight = scale.paddingTop = scale.paddingBottom = 0;
    };
}

function useTicks(values) {
    return function(scale) {
        scale.ticks = values.map(v => ({ value: v }));
    };
}

function axisStyle(extra) {
    return Object.assign({
        border: { display: false },
        grid: { drawOnChartArea: false, color: frameColor, tickColor: frameColor, tickLength: 6 }
    }, extra);
}

// frame round the plot area
const framePlugin = {
    id: 'frame',
    beforeDatasetsDraw(chart) {
        const a = chart.chartArea, c = chart.ctx;
        c.save();
        c.strokeStyle = frameColor;
        c.lineWidth = 2;
        c.strokeRect(a.left, a.top, a.right - a.left, a.bottom - a.top);
        c.restore();
    }
};

const minorTickPlugin = {
    id: 'minorTicks',
    afterDraw(chart) {
        const a = chart.chartArea, c = chart.ctx;
        c.save();
        c.strokeStyle = frameColor;
        c.lineWidth = 1;
        c.beginPath();
        riskXMinor.forEach(v => {
            const x = Math.round(chart.scales.x.getPixelForValue(v)) + 0.5;
            c.moveTo(x, a.bottom);
            c.lineTo(x, a.bottom + 4);
        });
        riskYMinor.forEach(v => {
            const y = Math.round(chart.scales.y.getPixelForValue(v)) + 0.5;
            c.moveTo(a.left, y);
            c.lineTo(a.left - 3, y);
        });
        c.stroke();
        c.restore();
    }
};

const geneLabelPlugin = {
    id: 'geneLabels',
    afterDatasetsDraw(chart) {
        const c = chart.ctx;
        const xs = chart.scales.x, ys = chart.scales.y;
        c.save();
        c.font = '12px ' + labelFont;
        c.fillStyle = '#111';
        c.textBaseline = 'middle';
        geneNames.forEach((name, i) => {
            const px = xs.getPixelForValue(geneFreq[i]);
            const py = ys.getPixelForValue(geneRisk[i]);
            c.fillText(name, px + labelDx[i], py + labelDy[i]);
            if (name === 'PITPNM2') {
                // leader line
                c.strokeStyle = '#111';
                c.lineWidth = 1.3;
                c.beginPath();
                c.moveTo(px + 1, py - 1);
                c.lineTo(px + 17, py - 17);
                c.stroke();
            }
        });
        c.restore();
    }
};

new Chart(document.getElementById('riskChart'), {
    type: 'scatter',
    data: {
        datasets: [
            {
                data: geneFreq.map((f, i) => ({ x: f, y: geneRisk[i] })),
                backgroundColor: '#000',
                pointRadius: 3,
                pointBorderWidth: 0,
                order: 0
            },
            {
                data: blueFreq.map((f, i) => ({ x: f, y: blueRisk[i] })),
                showLine: true,
                borderColor: '#3f69c9',
                borderWidth: 2,
                pointRadius: 0,
                cubicInterpolationMode: 'monotone',
                order: 1
            },
            {
                data: redFreq.map((f, i) => ({ x: f, y: redRisk[i] })),
                showLine: true,
                borderColor: '#d6344f',
                borderWidth: 2,
                pointRadius: 0,
                cubicInterpolationMode: 'monotone',
                order: 1
            }
        ]
    },
    options: {
        responsive: false,
        animation: false,
        layout: { autoPadding: false, padding: { top: 4, right: 1 } },
        plugins: { legend: { display: false }, tooltip: { enabled: false } },
        scales: {
            x: axisStyle({
                min: 0.0454,
                max: 0.5055,
                afterFit: fixBox(0, 42),
                afterBuildTicks: useTicks(riskXTicks),
                ticks: {
                    maxRotation: 0, autoSkip: false, padding: 3, color: '#333',
                    font: { family: labelFont, size: 10 },
                    callback: v => v.toFixed(2)
                },
                title: {
                    display: true, text: 'Minor allele frequency', color: '#111',
                    font: { family: labelFont, size: 13.2, lineHeight: 1 },
                    padding: { top: 0, bottom: 7 }
                }
            }),
            y: axisStyle({
                min: 1,
                max: 3.25,
                afterFit: fixBox(46, 0),
                afterBuildTicks: useTicks(riskYTicks),
                ticks: {
                    autoSkip: false, padding: 3, color: '#333',
                    font: { family: labelFont, size: 10 },
                    callback: v => v.toFixed(2)
                },
                title: {
                    display: true, text: 'Genotypic relative risk', color: '#111',
                    font: { family: labelFont, size: 13.2, lineHeight: 1 },
                    padding: 0
                }
            })
        }
    },
    plugins: [framePlugin, minorTickPlugin, geneLabelPlugin]
});

const oddsDots = [];
gridFreq.forEach((f, i) => gridOdds[i].forEach(o => oddsDots.push({ x: f, y: o })));
solidFreq.forEach((f, i) => solidOdds[i].forEach(o => oddsDots.push({ x: f, y: o })));
looseDots.forEach(d => oddsDots.push({ x: d[0], y: d[1] }));

const oddsXMin = -0.0082, oddsXMax = 0.5077;

new Chart(document.getElementById('oddsChart'), {
    type: 'scatter',
    data: {
        datasets: [
            {
                data: oddsDots,
                backgroundColor: '#000',
                pointRadius: 0.95,
                pointBorderWidth: 0,
                order: 0
            }
        ].concat(refLines.map(v => ({
            data: [{ x: oddsXMin, y: v }, { x: oddsXMax, y: v }],
            showLine: true,
            borderColor: frameColor,
            borderWidth: 2,
            pointRadius: 0,
            order: 1
        })))
    },
    options: {
        responsive: false,
        animation: false,
        layout: { autoPadding: false, padding: { top: 11.5, right: 2 } },
        plugins: { legend: { display: false }, tooltip: { enabled: false } },
        scales: {
            x: {
                min: oddsXMin,
                max: oddsXMax,
                afterFit: fixBox(0, 35),
                afterBuildTicks: useTicks(oddsXTicks),
                border: { display: false },
                grid: { display: false },
                ticks: {
                    maxRotation: 0, autoSkip: false, padding: 0, color: '#333',
                    font: { family: labelFont, size: 10 },
                    callback: v => v.toFixed(2)
                },
                title: {
                    display: true, text: 'Frequency', color: '#111',
                    font: { family: labelFont, size: 13.2, lineHeight: 1 },
                    padding: { top: 0, bottom: 0 }
                }
            },
            y: axisStyle({
                type: 'logarithmic',
                min: 0.992,
                max: 50.5,
                afterFit: fixBox(40, 0),
                afterBuildTicks: useTicks(oddsYTicks),
                grid: { drawOnChartArea: false, color: frameColor, tickColor: frameColor, tickLength: 4 },
                ticks: {
                    autoSkip: false, padding: 1, color: '#333',
                    font: ctx => ({ family: labelFont, size: (ctx.tick.value === 1 || ctx.tick.value === 10) ? 10.5 : 8 }),
                    callback: v => String(v)
                },
                title: {
                    display: true, text: 'Odds ratio', color: '#111',
                    font: { family: labelFont, size: 13.2, lineHeight: 1 },
                    padding: { top: 1, bottom: 0 }
                }
            })
        }
    },
    plugins: [framePlugin]
});
</script>
</body>
</html>
